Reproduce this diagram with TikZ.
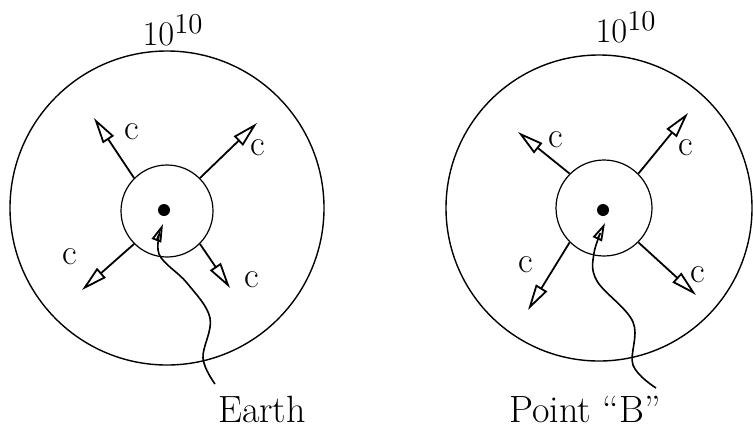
\documentclass[tikz,border=0pt]{standalone}
\usetikzlibrary{arrows.meta}

\begin{document}
\begin{tikzpicture}[
x=0.5pt, y=-0.5pt,
ring/.style={
	circle,
	draw,
	line width=0.7pt,
	inner sep=0pt
},
core/.style={
	circle,
	draw,
	line width=0.6pt,
	inner sep=0pt
},
dot/.style={circle, fill, inner sep=0pt, minimum size=6pt},
ray/.style={-{Triangle[open, length=13pt, width=6.5pt, line width=0.9pt]}, line width=0.9pt},
pointer/.style={-{Triangle[open, length=9pt, width=5pt, line width=0.9pt]}, line width=0.8pt},
speed/.style={font=\fontsize{18}{20}\selectfont},
tag/.style={font=\fontsize{19}{22}\selectfont}
]
\useasboundingbox (0,0) rectangle (753,434);

% Earth
\node[ring, minimum size=157pt] (earthring) at (167,208) {};
\node[core, minimum size=46pt] (earthcore) at (167,211) {};
\node[dot] (earthdot) at (164,210) {};
\node[tag] (earthscale) at (173,30) {$10^{10}$};

\coordinate (earthul) at (94,118);
\coordinate (earthur) at (257,123);
\coordinate (earthll) at (82,290);
\coordinate (earthlr) at (230,288);

\draw[ray] (earthcore.135) -- (earthul);
\draw[ray] (earthcore.45) -- (earthur);
\draw[ray] (earthcore.225) -- (earthll);
\draw[ray] (earthcore.315) -- (earthlr);

\node[speed] (earthcul) at (132,132) {c};
\node[speed] (earthcur) at (258,148) {c};
\node[speed] (earthcll) at (70,257) {c};
\node[speed] (earthclr) at (252,280) {c};

\node[tag] (earth) at (262,409) {Earth};
\coordinate (earthtail) at (215,384);
\coordinate (earthhead) at (163,224);
\draw[pointer] plot[smooth, tension=0.6] coordinates {
	(earthtail) (203,358) (210,318) (187,283) (159,254) (earthhead)};

% Point B
\node[ring, minimum size=153pt] (pointring) at (599,208) {};
\node[core, minimum size=48pt] (pointcore) at (604,208) {};
\node[dot] (pointdot) at (603,210) {};
\node[tag] (pointscale) at (626,27) {$10^{10}$};

\coordinate (pointul) at (518,132);
\coordinate (pointur) at (688,113);
\coordinate (pointll) at (528,310);
\coordinate (pointlr) at (696,295);

\draw[ray] (pointcore.135) -- (pointul);
\draw[ray] (pointcore.45) -- (pointur);
\draw[ray] (pointcore.225) -- (pointll);
\draw[ray] (pointcore.315) -- (pointlr);

\node[speed] (pointcul) at (556,140) {c};
\node[speed] (pointcur) at (686,148) {c};
\node[speed] (pointcll) at (526,265) {c};
\node[speed] (pointclr) at (698,275) {c};

\node[tag] (point) at (585,409) {Point ``B''};
\coordinate (pointtail) at (656,388);
\coordinate (pointhead) at (605,223);
\draw[pointer] plot[smooth, tension=0.6] coordinates {
	(pointtail) (633,365) (633,322) (597,281) (594,253) (pointhead)};

\end{tikzpicture}
\end{document}
